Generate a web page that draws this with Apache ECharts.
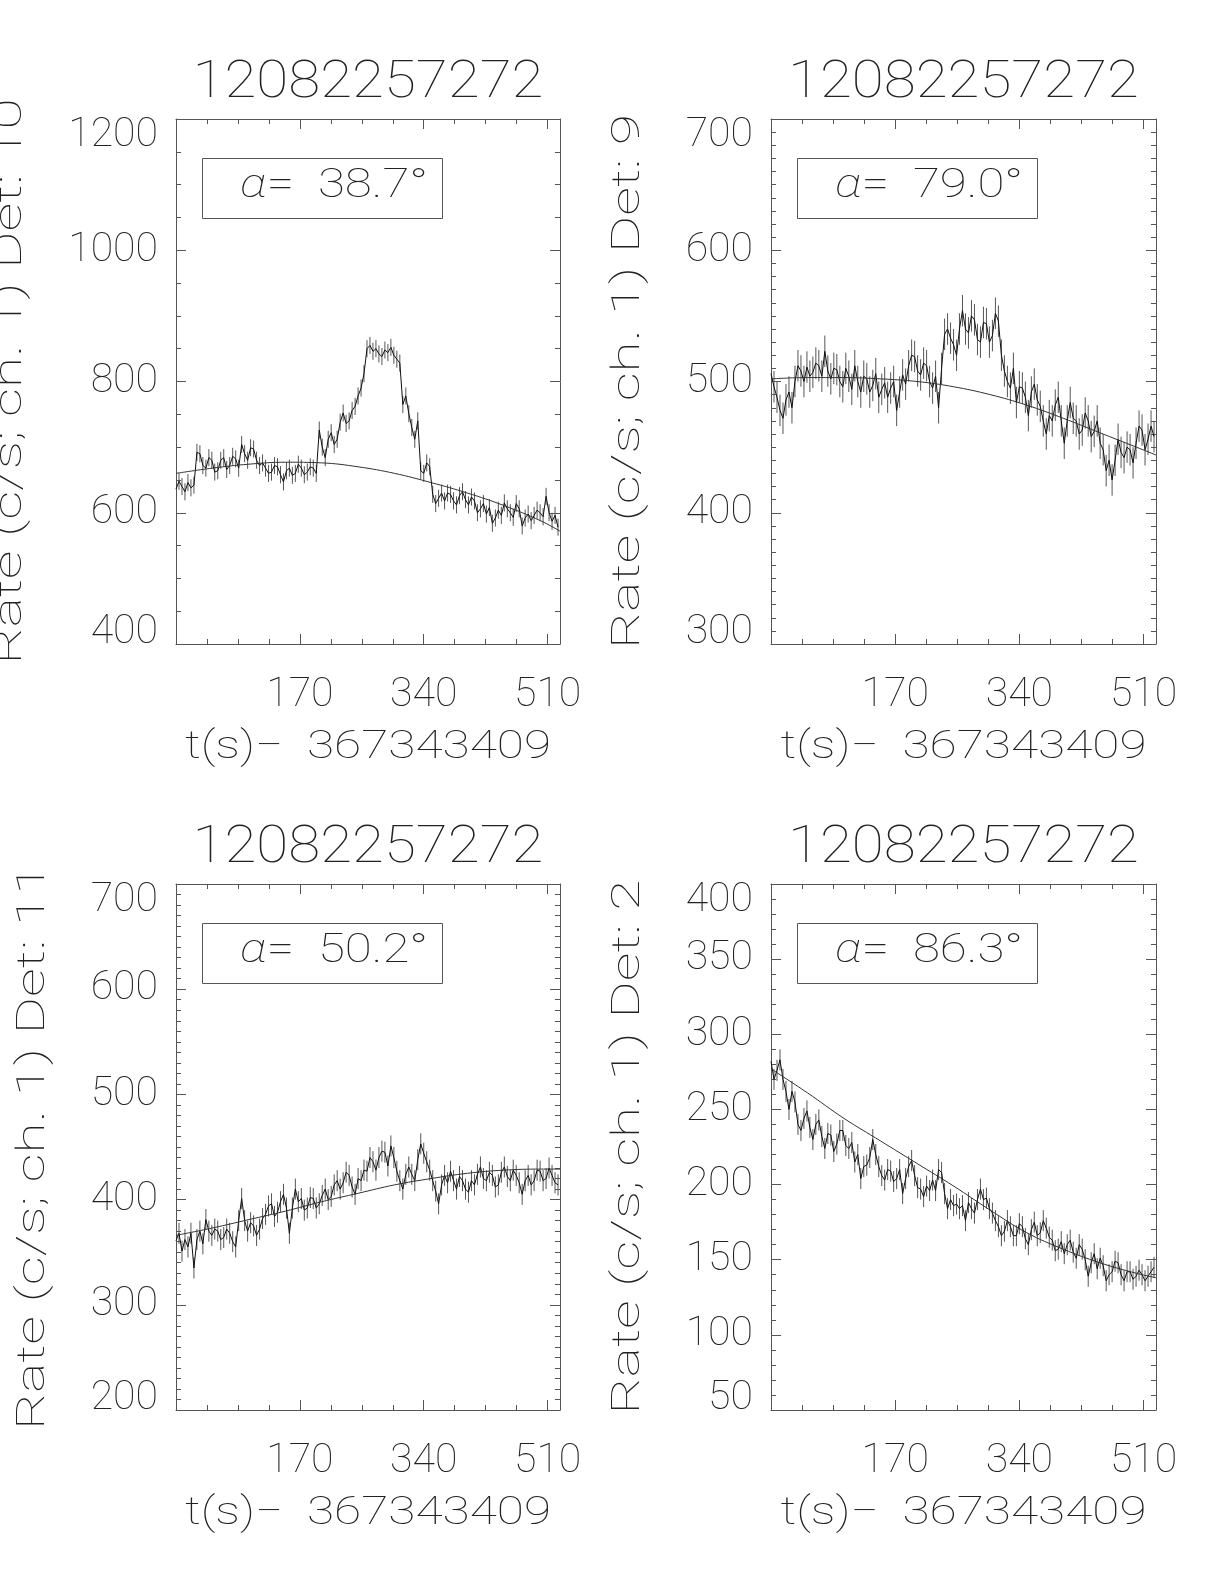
<!DOCTYPE html>
<html><head><meta charset="utf-8">
<script src="https://cdn.jsdelivr.net/npm/echarts@6/dist/echarts.min.js"></script>
<style>html,body{margin:0;padding:0;background:#fff}#c{width:1224px;height:1584px}</style>
</head><body><div id="c"></div>
<script>
// ---------------- DATA ----------------
const titleText = '12082257272';
const xAxisTitle = 't(s)\u2212  367343409';
const yAxisTitles = ['Rate (c/s; ch. 1) Det: 10', 'Rate (c/s; ch. 1) Det: 9', 'Rate (c/s; ch. 1) Det: 11', 'Rate (c/s; ch. 1) Det: 2'];
const alphaDeg = ['38.7', '79.0', '50.2', '86.3'];
const xTickLabels = [170, 340, 510];
const xRange = [0, 527];
const yMin = [400, 300, 200, 50];
const yMax = [1200, 700, 700, 400];
const yMajor = [200, 100, 100, 50];
const yMinor = [50, 10, 10, 10];

const timeS = [0, 4.1, 8.2, 12.3, 16.4, 20.5, 24.6, 28.7, 32.8, 36.9,
  41.0, 45.1, 49.2, 53.2, 57.3, 61.4, 65.5, 69.6, 73.7, 77.8,
  81.9, 86.0, 90.1, 94.2, 98.3, 102.4, 106.5, 110.6, 114.7, 118.8,
  122.9, 127.0, 131.1, 135.2, 139.3, 143.4, 147.5, 151.6, 155.6, 159.7,
  163.8, 167.9, 172.0, 176.1, 180.2, 184.3, 188.4, 192.5, 196.6, 200.7,
  204.8, 208.9, 213.0, 217.1, 221.2, 225.3, 229.4, 233.5, 237.6, 241.7,
  245.8, 249.9, 254.0, 258.0, 262.1, 266.2, 270.3, 274.4, 278.5, 282.6,
  286.7, 290.8, 294.9, 299.0, 303.1, 307.2, 311.3, 315.4, 319.5, 323.6,
  327.7, 331.8, 335.9, 340.0, 344.1, 348.2, 352.3, 356.4, 360.4, 364.5,
  368.6, 372.7, 376.8, 380.9, 385.0, 389.1, 393.2, 397.3, 401.4, 405.5,
  409.6, 413.7, 417.8, 421.9, 426.0, 430.1, 434.2, 438.3, 442.4, 446.5,
  450.6, 454.7, 458.8, 462.8, 466.9, 471.0, 475.1, 479.2, 483.3, 487.4,
  491.5, 495.6, 499.7, 503.8, 507.9, 512.0, 516.1, 520.2, 524.3];

const rateDet10 = [636, 648, 640, 632, 646, 638, 642, 692, 690, 672,
  668, 684, 680, 662, 664, 680, 684, 666, 672, 686,
  682, 668, 704, 690, 680, 699, 697, 680, 672, 676,
  668, 660, 662, 672, 670, 658, 647, 664, 668, 657,
  660, 674, 668, 658, 662, 670, 668, 660, 726, 700,
  684, 712, 722, 704, 712, 738, 752, 736, 740, 756,
  762, 778, 790, 812, 850, 855, 846, 850, 842, 838,
  848, 844, 852, 840, 834, 828, 765, 778, 751, 730,
  712, 740, 664, 660, 676, 670, 628, 614, 622, 630,
  618, 630, 628, 618, 612, 626, 632, 620, 612, 624,
  618, 600, 606, 614, 598, 608, 584, 592, 604, 596,
  615, 606, 600, 593, 614, 606, 580, 592, 598, 588,
  596, 604, 600, 594, 625, 600, 587, 596, 578];
const rateDet9 = [506, 496, 488, 478, 472, 486, 492, 480, 500, 512,
  508, 500, 511, 504, 507, 514, 512, 504, 523, 508,
  502, 510, 509, 500, 496, 510, 504, 494, 512, 500,
  492, 504, 502, 492, 497, 506, 488, 494, 499, 488,
  495, 500, 478, 492, 505, 498, 512, 520, 519, 508,
  505, 514, 512, 500, 495, 504, 480, 510, 536, 540,
  533, 528, 520, 540, 554, 540, 537, 550, 547, 532,
  530, 545, 544, 530, 535, 552, 546, 520, 508, 500,
  495, 510, 484, 496, 495, 488, 474, 492, 498, 486,
  481, 470, 460, 474, 470, 482, 488, 470, 453, 470,
  484, 472, 470, 460, 463, 476, 470, 458, 462, 470,
  453, 448, 432, 440, 425, 440, 456, 446, 442, 450,
  448, 438, 453, 466, 463, 448, 456, 466, 458];
const rateDet11 = [361, 368, 351, 362, 355, 368, 335, 362, 370, 358,
  381, 370, 366, 372, 370, 362, 364, 372, 368, 360,
  355, 380, 401, 380, 370, 378, 375, 366, 372, 382,
  386, 394, 396, 384, 388, 398, 405, 392, 368, 392,
  410, 398, 401, 390, 392, 402, 401, 392, 396, 404,
  410, 400, 403, 414, 418, 410, 416, 426, 423, 412,
  405, 420, 418, 428, 427, 440, 436, 428, 440, 446,
  445, 432, 451, 440, 427, 418, 410, 424, 431, 424,
  418, 438, 453, 444, 436, 428, 418, 408, 396, 414,
  423, 416, 427, 418, 410, 422, 418, 410, 407, 418,
  414, 424, 431, 420, 418, 426, 423, 412, 414, 426,
  431, 422, 418, 428, 423, 416, 405, 418, 423, 414,
  418, 428, 427, 418, 420, 430, 423, 416, 414];
const rateDet2 = [282, 270, 276, 283, 270, 262, 250, 262, 255, 240,
  236, 244, 249, 238, 230, 240, 243, 232, 224, 234,
  233, 222, 227, 236, 236, 226, 224, 228, 215, 220,
  204, 212, 213, 218, 230, 220, 212, 206, 203, 210,
  209, 202, 204, 210, 194, 204, 212, 216, 206, 198,
  197, 192, 199, 196, 203, 196, 210, 208, 194, 184,
  190, 186, 187, 184, 186, 176, 188, 184, 181, 190,
  197, 190, 191, 184, 181, 176, 172, 166, 169, 176,
  172, 166, 166, 174, 172, 164, 160, 170, 175, 166,
  168, 176, 171, 165, 163, 156, 157, 162, 154, 160,
  163, 155, 151, 160, 157, 150, 139, 148, 154, 144,
  151, 146, 136, 140, 142, 149, 148, 140, 136, 142,
  142, 137, 139, 143, 140, 136, 139, 142, 145];
const errHalf = [13, 12, 10, 7];

const fitTime = [0, 50, 100, 150, 200, 250, 300, 350, 400, 450, 500, 527];
const fitDet10 = [660, 668, 674, 677, 676, 670, 660, 646, 630, 611, 588, 572];
const fitDet9 = [502, 503, 503, 502, 500, 496, 490, 482, 472, 461, 450, 444];
const fitDet11 = [366, 373, 381, 389, 398, 406, 414, 420, 425, 428, 429, 429];
const fitDet2 = [277, 261, 244, 229, 214, 199, 183, 168, 157, 148, 141, 138];

// ---------------- LAYOUT / STYLE ----------------
const rates = [rateDet10, rateDet9, rateDet11, rateDet2];
const fits = [fitDet10, fitDet9, fitDet11, fitDet2];
const grids = [
  {left: 176, top: 119, width: 384, height: 525},
  {left: 771, top: 119, width: 385, height: 525},
  {left: 176, top: 884, width: 384, height: 526},
  {left: 771, top: 884, width: 385, height: 526}
];
const yNameX = [11, 629, 34, 629];
const FF = 'Roboto';
const FW = 100;
const TXT = '#222';
const AX = '#555';

const mctx = document.createElement('canvas').getContext('2d');
function textW(t, size) { mctx.font = FW + ' ' + size + 'px ' + FF; return mctx.measureText(t).width; }

const sizeTitle = 52, sizeName = 39, sizeTick = 41, sizeAlpha = 40;
const scaleTitle = 351 / textW(titleText, sizeTitle);
const scaleX = 366 / textW(xAxisTitle, sizeName);
const scaleY = 535 / textW(yAxisTitles[1], sizeName);
const scaleA = 189 / textW('\u03b1=  38.7\u00b0', sizeAlpha);

const xAxes = [], yAxes = [], series = [], graphics = [];

function tickAxisX(g, pos, interval, len, labels) {
  return {
    type: 'value', gridIndex: g, position: pos, min: xRange[0], max: xRange[1], interval: interval,
    axisLine: {show: labels, onZero: false, lineStyle: {color: AX, width: 1}},
    axisTick: {show: true, inside: true, length: len, lineStyle: {color: AX, width: 1}},
    axisLabel: labels ? {
      show: true, margin: 38, fontSize: sizeTick, lineHeight: 28, fontFamily: FF, fontWeight: FW, color: TXT,
      formatter: v => xTickLabels.indexOf(Math.round(v)) >= 0 ? String(Math.round(v)) : ''
    } : {show: false},
    splitLine: {show: false}
  };
}
function tickAxisY(g, pos, interval, len, labels, p) {
  return {
    type: 'value', gridIndex: g, position: pos, min: yMin[p], max: yMax[p], interval: interval,
    axisLine: {show: labels, onZero: false, lineStyle: {color: AX, width: 1}},
    axisTick: {show: true, inside: true, length: len, lineStyle: {color: AX, width: 1}},
    axisLabel: labels ? {
      show: true, margin: 18, fontSize: sizeTick, lineHeight: 22, padding: [6, 0, 0, 0],
      fontFamily: FF, fontWeight: FW, color: TXT,
      formatter: v => String(v),
      verticalAlignMaxLabel: 'top', verticalAlignMinLabel: 'bottom'
    } : {show: false},
    splitLine: {show: false}
  };
}

function errItem(params, api) {
  const x = api.value(0), y = api.value(1), e = api.value(2);
  const a = api.coord([x, y - e]), b = api.coord([x, y + e]);
  return {type: 'line', shape: {x1: a[0], y1: a[1], x2: b[0], y2: b[1]},
    style: {stroke: '#555', lineWidth: 1}};
}

grids.forEach((gr, p) => {
  xAxes.push(tickAxisX(p, 'bottom', 170, 10, true));
  xAxes.push(tickAxisX(p, 'bottom', 42.5, 5, false));
  const top = tickAxisX(p, 'top', 170, 10, false); top.axisLine.show = true; xAxes.push(top);
  xAxes.push(tickAxisX(p, 'top', 42.5, 5, false));
  yAxes.push(tickAxisY(p, 'left', yMajor[p], 10, true, p));
  yAxes.push(tickAxisY(p, 'left', yMinor[p], 5, false, p));
  const right = tickAxisY(p, 'right', yMajor[p], 10, false, p); right.axisLine.show = true; yAxes.push(right);
  yAxes.push(tickAxisY(p, 'right', yMinor[p], 5, false, p));

  const xi = 4 * p, yi = 4 * p;
  series.push({type: 'custom', xAxisIndex: xi, yAxisIndex: yi, renderItem: errItem, clip: true, silent: true,
    data: timeS.map((t, i) => [t, rates[p][i], errHalf[p]])});
  series.push({type: 'line', xAxisIndex: xi, yAxisIndex: yi, data: timeS.map((t, i) => [t, rates[p][i]]),
    symbol: 'none', clip: true, lineStyle: {color: '#111', width: 1}, silent: true});
  series.push({type: 'line', xAxisIndex: xi, yAxisIndex: yi, data: fitTime.map((t, i) => [t, fits[p][i]]),
    symbol: 'none', smooth: 0.4, clip: true, lineStyle: {color: '#333', width: 1}, silent: true});

  const cx = gr.left + gr.width / 2;
  const bottom = gr.top + gr.height;
  graphics.push({type: 'text', x: cx, y: gr.top - 35, scaleX: scaleTitle,
    style: {text: titleText, fontSize: sizeTitle, fontFamily: FF, fontWeight: FW, fill: TXT,
      align: 'center', verticalAlign: 'middle', textAlign: 'center', textVerticalAlign: 'middle'}});
  graphics.push({type: 'text', x: cx, y: bottom + 104, scaleX: scaleX,
    style: {text: xAxisTitle, fontSize: sizeName, fontFamily: FF, fontWeight: FW, fill: TXT,
      align: 'center', verticalAlign: 'middle', textAlign: 'center', textVerticalAlign: 'middle'}});
  graphics.push({type: 'text', x: yNameX[p], y: gr.top + gr.height / 2, rotation: Math.PI / 2, scaleX: scaleY,
    style: {text: yAxisTitles[p], fontSize: sizeName, fontFamily: FF, fontWeight: FW, fill: TXT,
      align: 'center', verticalAlign: 'middle', textAlign: 'center', textVerticalAlign: 'middle'}});
  graphics.push({type: 'rect', shape: {x: gr.left + 26.5, y: gr.top + 39.5, width: 240, height: 60},
    style: {fill: 'none', stroke: AX, lineWidth: 1}});
  graphics.push({type: 'text', x: gr.left + 64, y: gr.top + 68, scaleX: scaleA,
    style: {text: '{a|\u03b1}=  ' + alphaDeg[p] + '\u00b0', fontSize: sizeAlpha, fontFamily: FF, fontWeight: FW, fill: TXT,
      align: 'left', verticalAlign: 'middle', textAlign: 'left', textVerticalAlign: 'middle',
      rich: {a: {fontStyle: 'italic', fontSize: sizeAlpha, fontFamily: FF, fontWeight: FW, fill: TXT, color: TXT}}}});
});

const chart = echarts.init(document.getElementById('c'), null, {renderer: 'canvas'});
chart.setOption({
  backgroundColor: '#fff',
  animation: false,
  grid: grids.map(g => Object.assign({containLabel: false}, g)),
  xAxis: xAxes,
  yAxis: yAxes,
  series: series,
  graphic: {elements: graphics}
});
</script></body></html>
